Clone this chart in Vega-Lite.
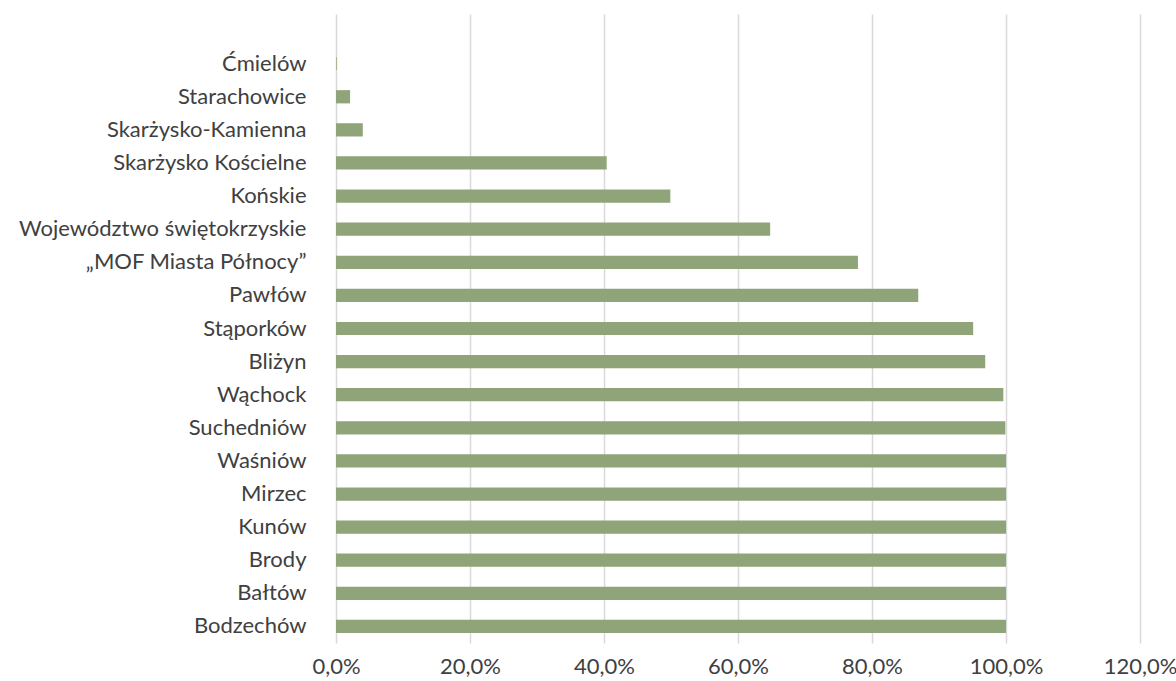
{
  "$schema": "https://vega.github.io/schema/vega-lite/v6.json",
  "autosize": {"type": "none"},
  "padding": {"left": 336, "top": 14, "right": 36, "bottom": 38},
  "width": 804,
  "height": 629,
  "background": "white",
  "data": {"values": [
    {"gmina": "Ćmielów", "v": 0.001},
    {"gmina": "Starachowice", "v": 0.021},
    {"gmina": "Skarżysko-Kamienna", "v": 0.040},
    {"gmina": "Skarżysko Kościelne", "v": 0.404},
    {"gmina": "Końskie", "v": 0.499},
    {"gmina": "Województwo świętokrzyskie", "v": 0.648},
    {"gmina": "„MOF Miasta Północy”", "v": 0.779},
    {"gmina": "Pawłów", "v": 0.869},
    {"gmina": "Stąporków", "v": 0.951},
    {"gmina": "Bliżyn", "v": 0.969},
    {"gmina": "Wąchock", "v": 0.996},
    {"gmina": "Suchedniów", "v": 0.999},
    {"gmina": "Waśniów", "v": 1.0},
    {"gmina": "Mirzec", "v": 1.0},
    {"gmina": "Kunów", "v": 1.0},
    {"gmina": "Brody", "v": 1.0},
    {"gmina": "Bałtów", "v": 1.0},
    {"gmina": "Bodzechów", "v": 1.0}
  ]},
  "mark": {"type": "bar", "color": "#8FA478"},
  "encoding": {
    "y": {
      "field": "gmina", "type": "nominal", "sort": null, "title": null,
      "scale": {"paddingInner": 0.6, "paddingOuter": 0.8, "align": 0.8125},
      "axis": {"domain": false, "ticks": false, "grid": false, "labelPadding": 30, "labelFont": "Lato", "labelFontSize": 22, "labelColor": "#404040", "labelLimit": 400}
    },
    "x": {
      "field": "v", "type": "quantitative", "title": null,
      "scale": {"domain": [0, 1.2], "nice": false},
      "axis": {"values": [0, 0.2, 0.4, 0.6, 0.8, 1.0, 1.2], "labelExpr": "replace(format(datum.value, '.1%'), '.', ',')", "labelFlush": false, "labelOverlap": false, "domain": false, "ticks": false, "grid": true, "gridColor": "#D9D9D9", "gridWidth": 1.5, "labelPadding": 13, "labelFont": "Lato", "labelFontSize": 22, "labelColor": "#404040"}
    }
  },
  "config": {"view": {"stroke": null}}
}
